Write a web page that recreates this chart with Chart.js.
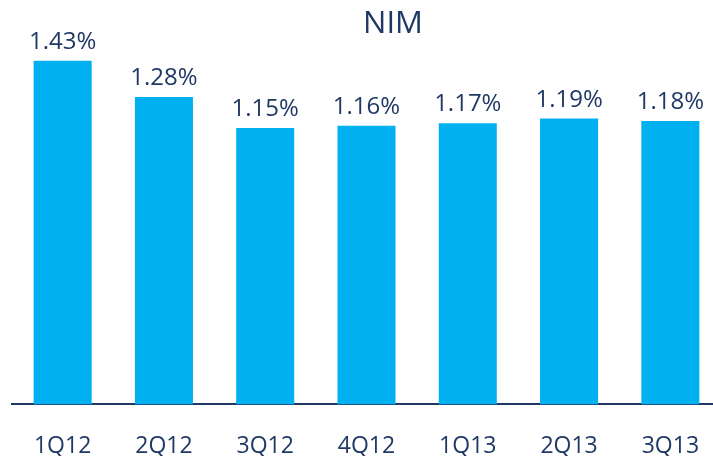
<!DOCTYPE html>
<html>
<head>
<meta charset="utf-8">
<script src="https://cdn.jsdelivr.net/npm/chart.js@4/dist/chart.umd.min.js"></script>
<style>
  html, body { margin: 0; padding: 0; background: #fff; overflow: hidden; }
  #nimChart { display: block; }
</style>
</head>
<body>
<canvas id="nimChart" width="713" height="456"></canvas>
<script>
const quarters = ['1Q12', '2Q12', '3Q12', '4Q12', '1Q13', '2Q13', '3Q13'];
const nimValues = [1.43, 1.28, 1.15, 1.16, 1.17, 1.19, 1.18];
const chartTitle = 'NIM';

const NAVY = '#1F3864';
const BAR_BLUE = '#00B0F0';
const PLOT_WIDTH = 709; // last category runs a little past the right edge in the original

// stretch the category axis past the canvas edge, like the source slide
const stretchPlugin = {
    id: 'stretchPlugin',
    afterLayout(chart) {
        const x = chart.scales.x;
        x.right = x.left + PLOT_WIDTH;
        x.width = PLOT_WIDTH;
        x.configure();
        chart.chartArea.right = x.right;
        chart.chartArea.width = PLOT_WIDTH;
    }
};

// value labels above bars + title, drawn without touching the layout
const labelPlugin = {
    id: 'labelPlugin',
    afterDatasetsDraw(chart) {
        const ctx = chart.ctx;
        const meta = chart.getDatasetMeta(0);
        ctx.save();
        ctx.fillStyle = NAVY;
        ctx.font = '24px "Open Sans"';
        ctx.textAlign = 'center';
        ctx.textBaseline = 'alphabetic';
        meta.data.forEach((bar, i) => {
            ctx.fillText(nimValues[i].toFixed(2) + '%', bar.x, bar.y - 12);
        });
        ctx.font = '31px "Open Sans"';
        ctx.fillText(chartTitle, 393, 33);
        ctx.restore();
    }
};

new Chart(document.getElementById('nimChart').getContext('2d'), {
    type: 'bar',
    data: {
        labels: quarters,
        datasets: [{
            data: nimValues,
            backgroundColor: BAR_BLUE,
            categoryPercentage: 1,
            barPercentage: 0.573
        }]
    },
    options: {
        responsive: false,
        animation: false,
        layout: { padding: { left: 12, right: 0, top: 20, bottom: -32 } },
        plugins: {
            legend: { display: false },
            tooltip: { enabled: false }
        },
        scales: {
            x: {
                grid: { display: false, drawTicks: false },
                border: { display: true, color: NAVY, width: 2 },
                ticks: {
                    color: NAVY,
                    font: { family: 'Open Sans', size: 23 },
                    padding: 28
                }
            },
            y: {
                display: false,
                min: 0,
                max: 1.6
            }
        }
    },
    plugins: [stretchPlugin, labelPlugin]
});
</script>
</body>
</html>
